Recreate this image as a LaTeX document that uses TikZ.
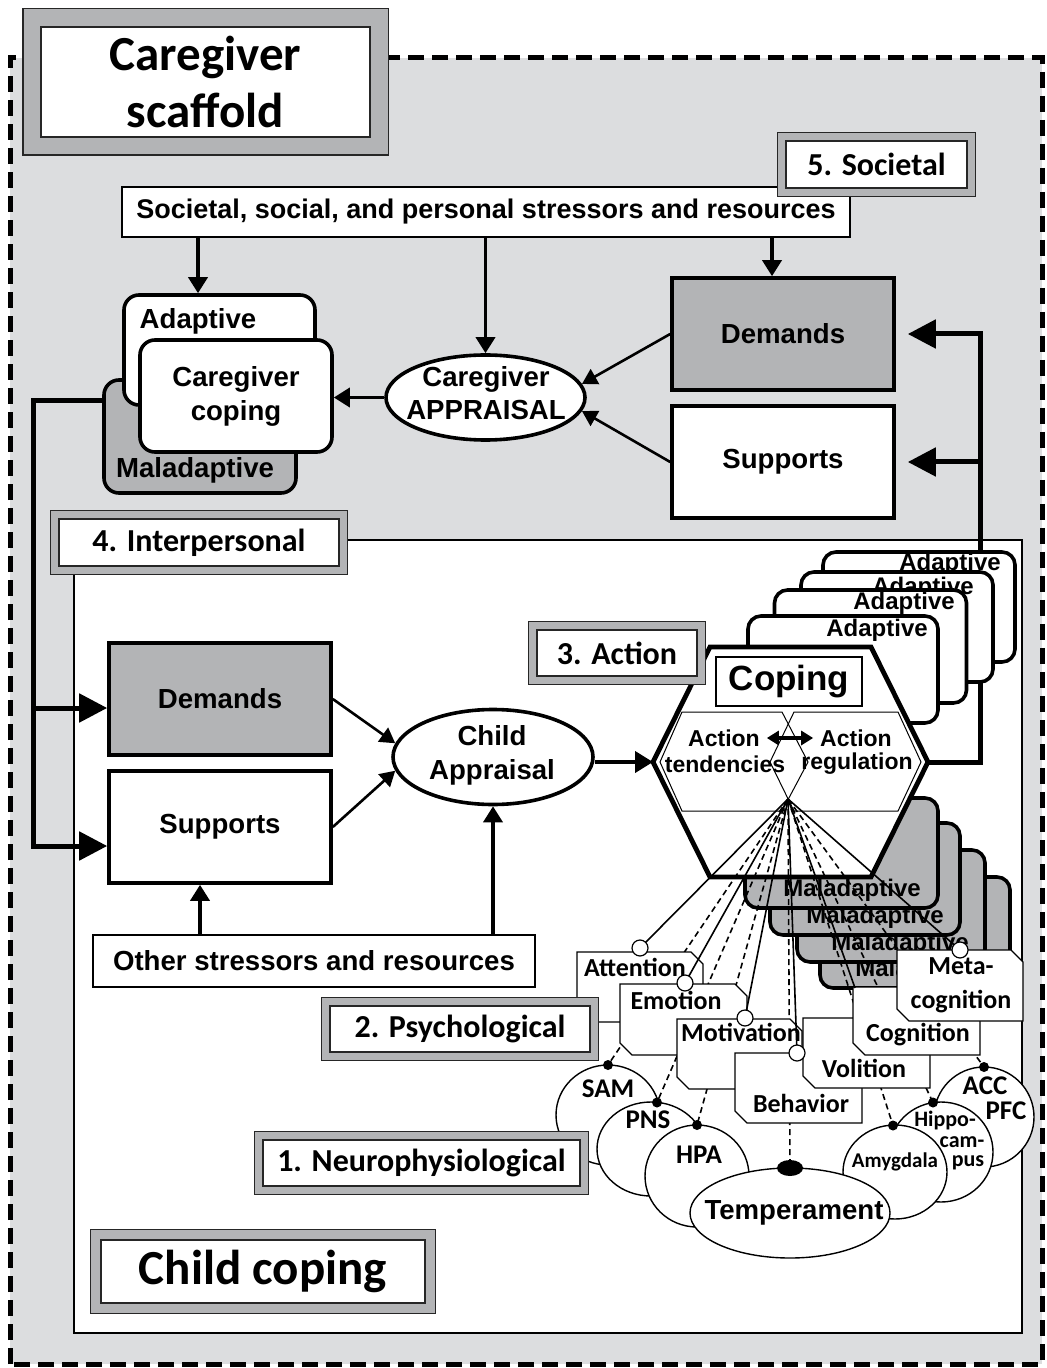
\documentclass[tikz,border=0pt]{standalone}
\usepackage{fontspec}
\setmainfont{Liberation Sans}
\newfontfamily\calib{Carlito}
\usetikzlibrary{arrows.meta,shapes.geometric}
\definecolor{bggray}{RGB}{220,221,223}
\definecolor{midgray}{RGB}{179,180,182}
\tikzset{
  arf/.style={font=\bfseries\fontsize{13.8}{17}\selectfont},
  arsm/.style={font=\bfseries\fontsize{12}{14}\selectfont},
  cbf/.style={font=\calib\bfseries\fontsize{13}{17}\selectfont},
  lblbase/.style={fill=white, draw=black!85, line width=0.6pt, inner sep=0pt, font=\calib\bfseries\fontsize{16}{19}\selectfont},
  lblA/.style={lblbase, preaction={draw=black!85, line width=9.2pt}, preaction={draw=midgray, line width=8pt}},
  lblB/.style={lblbase, preaction={draw=black!85, line width=11.2pt}, preaction={draw=midgray, line width=10pt}},
  lblC/.style={lblbase, preaction={draw=black!85, line width=18.7pt}, preaction={draw=midgray, line width=17.5pt}},
  thinbox/.style={draw, line width=0.6pt, fill=white, inner sep=0pt, arf},
  sqbox/.style={draw, line width=1.8pt, inner sep=0pt, minimum width=111pt, minimum height=56pt, arf},
  rbox/.style={draw, line width=1.8pt, rounded corners=7.5pt, fill=white, inner sep=0pt, minimum width=96pt, minimum height=56pt},
  sbox/.style={draw, line width=1.8pt, rounded corners=6.5pt, fill=white, inner sep=0pt, minimum width=96pt, minimum height=55pt},
  ell/.style={ellipse, draw, line width=1.8pt, fill=white, inner sep=0pt},
  nell/.style={ellipse, draw, line width=0.7pt, fill=white, inner sep=0pt},
  psy/.style={draw, line width=0.6pt, fill=white},
  fbline/.style={line width=2.5pt},
  fbtip/.style={-{Triangle[length=14pt,width=14pt]}},
  marr/.style={line width=1.8pt, -{Triangle[length=8pt,width=9.5pt]}},
  darr/.style={line width=1.3pt, -{Triangle[length=7.5pt,width=8.5pt]}},
  fanS/.style={line width=0.8pt},
  fanD/.style={line width=0.8pt, dash pattern=on 3pt off 2pt},
  ocirc/.style={circle, draw, line width=0.6pt, fill=white, inner sep=0pt, minimum size=8pt},
  ndot/.style={circle, fill=black, inner sep=0pt, minimum size=5pt},
}
\newcommand\chamf[4]{%
  \draw[psy] (#1,#2) -- ({#3-12},#2) -- (#3,{#2+12}) -- (#3,#4) -- ({#1+12},#4) -- (#1,{#4-12}) -- cycle;}
\begin{document}
\begin{tikzpicture}[x=0.5pt,y=-0.5pt]
\useasboundingbox (0,0) rectangle (1047,1368);
\fill[white] (0,0) rectangle (1047,1368);
% outer scaffold
\fill[bggray] (10,58) rectangle (1042,1364);
\draw[line width=2.5pt, dash pattern=on 8pt off 4pt] (10,1364) -- (10,58) -- (1042,58) -- (1042,1364) -- cycle;
\node[lblC, minimum width=164.5pt, minimum height=55pt, align=center, font=\calib\bfseries\fontsize{24.5}{28.5}\selectfont] (cgs) at (205.5,82) {Caregiver\\scaffold};

% societal level
\node[thinbox, minimum width=364pt, minimum height=25pt, font=\bfseries\fontsize{13.5}{16}\selectfont] (soc) at (486,212) {Societal, social, and personal stressors and resources};
\node[lblA, minimum width=90.5pt, minimum height=23.5pt] (l5) at (876.5,164.5) {5. Societal};

% caregiver coping
\node[rbox, fill=midgray, minimum width=96pt, minimum height=56.5pt] (cgmal) at (200,436.5) {};
\node[arf] (cgmalt) at (195,470) {Maladaptive};
\node[rbox, minimum width=95.5pt, minimum height=55pt] (cgad) at (219.5,350) {};
\node[arf] (cgadt) at (198,321) {Adaptive};
\node[rbox, align=center, arf] (cgc) at (236,396) {Caregiver\\coping};

\node[ell, minimum width=99.5pt, minimum height=42.5pt] (cga) at (485.5,397.5) {};
\node[align=center, font=\bfseries\fontsize{13.8}{16.5}\selectfont] (cgat) at (486,393) {Caregiver\\APPRAISAL};

\node[sqbox, fill=midgray] (tdem) at (783,334) {Demands};
\node[sqbox, fill=white] (tsup) at (783,462) {Supports};

\coordinate (s3) at (772,237);
\draw[marr] (soc.south -| cgadt) -- (cgadt |- cgad.north);
\draw[marr] (soc.south -| cga.north) -- (cga.north);
\draw[marr] (s3) -- (s3 |- tdem.north);
\draw[marr] (cga.west) -- (cga.west -| cgc.east);
\draw[darr] (tdem.west) -- (cga.8);
\draw[darr] (tsup.west) -- (cga.-8);

% interpersonal region
\draw[fill=white, line width=0.6pt] (74,540) rectangle (1022,1333);
\node[lblA, minimum width=140pt, minimum height=23.5pt] (l4) at (199,542.5) {4. Interpersonal};

\node[sqbox, fill=midgray] (cdem) at (220,699) {Demands};
\node[sqbox, fill=white] (csup) at (220,827) {Supports};

% left feedback
\coordinate (lf0) at (104,401);
\coordinate (lfc) at (33,401);
\coordinate (lfa) at (33,708);
\coordinate (lfb) at (33,846);
\draw[fbline, fbtip] (lf0) -- (lfc) -- (lfb) -- (csup.west |- lfb);
\draw[fbline, fbtip] (lfa) -- (cdem.west |- lfa);

% right feedback
\coordinate (hL) at (653,762);
\coordinate (hTL) at (710,647);
\coordinate (hTR) at (871,647);
\coordinate (hR) at (928,762);
\coordinate (hBR) at (871,877);
\coordinate (hBL) at (710,877);
\coordinate (rf1) at (980,762);
\coordinate (rf2) at (980,334);
\coordinate (rf3) at (980,462);
\draw[fbline, fbtip] (hR) -- (rf1) -- (rf2) -- ([xshift=6pt]tdem.east);
\draw[fbline, fbtip] (rf3) -- ([xshift=6pt]tsup.east);

% adaptive stack
\node[sbox] (a1) at (919,607) {};
\node[arsm] (a1t) at (950,564) {Adaptive};
\node[sbox] (a2) at (897,627) {};
\node[arsm] (a2t) at (923,588) {Adaptive};
\node[sbox, minimum height=56.5pt] (a3) at (870.5,646.5) {};
\node[arsm] (a3t) at (904,603) {Adaptive};
\node[sbox, minimum width=95pt, minimum height=53.5pt] (a4) at (843,669.5) {};
\node[arsm] (a4t) at (877,630) {Adaptive};

% maladaptive stack
\node[sbox, fill=midgray, minimum width=95pt, minimum height=55.5pt] (m4) at (915,932.5) {};
\node[arsm] (m4t) at (924,970) {Maladaptive};
\node[sbox, fill=midgray, minimum width=94pt, minimum height=56pt] (m3) at (891,906) {};
\node[arsm] (m3t) at (900,944) {Maladaptive};
\node[sbox, fill=midgray, minimum width=95pt, minimum height=56pt] (m2) at (865,879) {};
\node[arsm] (m2t) at (875,917) {Maladaptive};
\node[sbox, fill=midgray, minimum width=96.5pt, minimum height=55pt] (m1) at (841.5,853) {};
\node[arsm] (m1t) at (852,890) {Maladaptive};

% action hexagon
\draw[line width=2.4pt, fill=white] (hL) -- (hTL) -- (hTR) -- (hR) -- (hBR) -- (hBL) -- cycle;
\draw[line width=0.5pt] (660,762) -- (682,712) -- (782,712) -- (808,762) -- (782,811) -- (682,811) -- cycle;
\draw[line width=0.5pt] (770,762) -- (794,712) -- (898,712) -- (921,762) -- (898,811) -- (794,811) -- cycle;
\node[draw, line width=0.6pt, fill=white, minimum width=73pt, minimum height=24.5pt, inner sep=0pt, font=\bfseries\fontsize{17.5}{20}\selectfont] (coping) at (789,681.5) {Coping};
\node[font=\bfseries\fontsize{11.5}{13}\selectfont] (at1) at (724,738) {Action};
\node[font=\bfseries\fontsize{11.5}{13}\selectfont] (at2) at (725,764) {tendencies};
\node[font=\bfseries\fontsize{11.5}{13}\selectfont] (ar1) at (856,738) {Action};
\node[font=\bfseries\fontsize{11.5}{13}\selectfont] (ar2) at (857,764) {regulation};
\draw[line width=1.6pt, {Triangle[length=6pt,width=7pt]}-{Triangle[length=6pt,width=7pt]}] (at1.east) -- (ar1.west);
\node[lblA, minimum width=80pt, minimum height=23pt] (l3) at (617,653) {3. Action};

% child appraisal
\node[ell, minimum width=100pt, minimum height=47.5pt] (cap) at (493,757) {};
\node[align=center, arf] (capt) at (492,755) {Child\\Appraisal};
\draw[darr] (cdem.east) -- (cap.172);
\draw[darr] (csup.east) -- (cap.188);
\draw[line width=2pt, -{Triangle[length=9pt,width=10.5pt]}] (cap.east |- hL) -- (hL);
\node[thinbox, minimum width=221pt, minimum height=26pt] (oth) at (314,961) {Other stressors and resources};
\coordinate (o1) at (200,935);
\draw[marr] (o1) -- (o1 |- csup.south);
\draw[marr] (oth.north -| cap.south) -- (cap.south);

% fan: dashed links to neurophysiology
\coordinate (apex) at (788,799);
\coordinate (dSAM) at (608,1065);
\coordinate (dPNS) at (657,1102.5);
\coordinate (dHPA) at (697,1125);
\coordinate (dTem) at (790,1168);
\coordinate (dAmy) at (893,1125.5);
\coordinate (dHip) at (933,1102.5);
\coordinate (dACC) at (984,1067);
\foreach \nm in {dSAM,dPNS,dHPA,dTem,dAmy,dHip,dACC} \draw[fanD] (apex) -- (\nm);

% psychological boxes
\chamf{577}{952}{703}{1022}
\chamf{620}{984}{747}{1055}
\chamf{677}{1019}{802}{1089}
\chamf{735}{1053}{862}{1123}
\chamf{803}{1018}{930}{1088}
\chamf{853}{987}{980}{1055}
\chamf{897}{950}{1023}{1021}
\node[cbf] (tAtt) at (635,967) {Attention};
\node[cbf] (tEmo) at (676,1000) {Emotion};
\node[cbf] (tMot) at (741,1032) {Motivation};
\node[cbf] (tBeh) at (801,1103) {Behavior};
\node[cbf] (tVol) at (864,1068) {Volition};
\node[cbf] (tCog) at (918,1035) {Cognition};
\node[cbf, align=center] (tMeta) at (961,985) {Meta-\\cognition};

% solid fan lines
\coordinate (cAtt) at (640,948);
\coordinate (cEmo) at (685,983);
\coordinate (cMot) at (745,1018);
\coordinate (cBeh) at (797,1053);
\coordinate (cCog) at (855,988);
\coordinate (cMeta) at (960,950);
\foreach \nm in {cAtt,cEmo,cMot,cBeh,cCog,cMeta} \draw[fanS] (apex) -- (\nm);
\foreach \nm in {cAtt,cEmo,cMot,cBeh,cMeta} \node[ocirc] (o\nm) at (\nm) {};

% neurophysiological
\node[nell, minimum width=52pt, minimum height=50pt] (sam) at (608,1115) {};
\node[nell, minimum width=54pt, minimum height=47pt] (pns) at (651,1149) {};
\node[nell, minimum width=52pt, minimum height=51pt] (hpa) at (697,1176) {};
\node[nell, minimum width=50pt, minimum height=50pt] (acc) at (984,1117) {};
\node[nell, minimum width=52pt, minimum height=50pt] (hip) at (941,1152) {};
\node[nell, minimum width=52pt, minimum height=47pt] (amy) at (895,1172) {};
\node[nell, minimum width=100pt, minimum height=45pt] (tem) at (790,1213) {};
\foreach \nm in {dSAM,dPNS,dHPA,dAmy,dHip,dACC} \node[ndot] (n\nm) at (\nm) {};
\node[ellipse, fill=black, inner sep=0pt, minimum width=13pt, minimum height=8pt] (ndTem) at (dTem) {};
\node[font=\calib\bfseries\fontsize{13.5}{16}\selectfont] (tsam) at (608,1089) {SAM};
\node[font=\calib\bfseries\fontsize{13.5}{16}\selectfont] (tpns) at (648,1120) {PNS};
\node[font=\calib\bfseries\fontsize{13.5}{16}\selectfont] (thpa) at (699,1155) {HPA};
\node[font=\calib\bfseries\fontsize{13.5}{16}\selectfont] (tacc) at (985,1086) {ACC};
\node[font=\calib\bfseries\fontsize{13.5}{16}\selectfont] (tpfc) at (1006,1111) {PFC};
\node[font=\calib\bfseries\fontsize{10.5}{12}\selectfont] (tamy) at (895,1162) {Amygdala};
\node[font=\calib\bfseries\fontsize{11}{12}\selectfont, inner sep=0pt] (thip1) at (945,1120) {Hippo-};
\node[font=\calib\bfseries\fontsize{11}{12}\selectfont, inner sep=0pt] (thip2) at (962,1142) {cam-};
\node[font=\calib\bfseries\fontsize{11}{12}\selectfont, inner sep=0pt] (thip3) at (968,1163) {pus};
\node[arf] (ttem) at (794,1213) {Temperament};

% level labels
\node[lblA, minimum width=130pt, minimum height=23pt] (l2) at (460,1029) {2. Psychological};
\node[lblA, minimum width=158.5pt, minimum height=23pt] (l1) at (421.5,1163) {1. Neurophysiological};
\node[lblB, minimum width=162pt, minimum height=31.5pt, font=\calib\bfseries\fontsize{24.5}{28}\selectfont] (lcc) at (263,1271.5) {Child coping};
\end{tikzpicture}
\end{document}
